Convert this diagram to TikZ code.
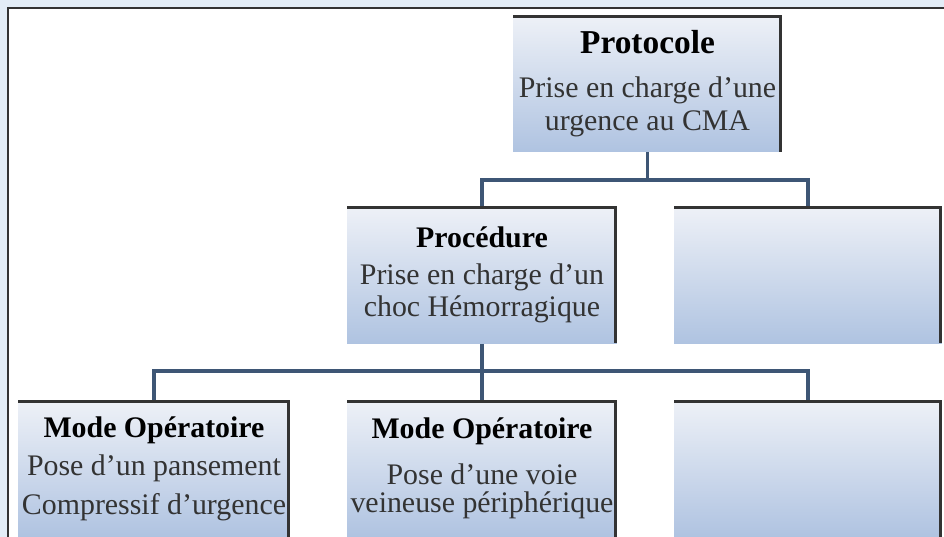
\documentclass[tikz,border=0pt]{standalone}
\usepackage{fontspec}
\setmainfont{Liberation Serif}
\usepackage{tikz}

\definecolor{fond}{HTML}{E3EDF7}
\definecolor{haut}{HTML}{EEF1F7}
\definecolor{bas}{HTML}{AFC3E1}
\definecolor{trait}{HTML}{3E5675}
\definecolor{bord}{HTML}{333333}
\definecolor{texte}{HTML}{333333}

\newcommand{\titre}[1]{{\fontsize{17}{20}\selectfont\bfseries\color{black}#1}}

\tikzset{
    boite/.style={rectangle, inner sep=0pt, align=center, text=texte,
        minimum width=5.4cm, minimum height=2.74cm,
        top color=haut, bottom color=bas,
        font=\fontsize{17}{20}\selectfont,
        path picture={\draw[bord, line width=3pt]
            (path picture bounding box.north west) -- (path picture bounding box.north east)
            -- (path picture bounding box.south east);}},
    lien/.style={trait, line width=1.8pt}
}

\begin{document}
\begin{tikzpicture}[x=0.02cm, y=0.02cm]
    \useasboundingbox (0,0) rectangle (944,-537);
    \fill[fond] (0,0) rectangle (944,-537);
    \fill[white] (8,-8) rectangle (960,-560);
    \draw[bord, line width=1.2pt] (8,-560) -- (8,-8) -- (960,-8);

    \node [boite, minimum width=5.38cm] (proto) at (647.5,-83.5)
        {{\fontsize{19}{20}\selectfont\bfseries\color{black}Protocole}\\[5pt]
         Prise en charge d’une\\[-1pt] urgence au CMA};

    \node [boite] (proc) at (482,-275)
        {\titre{Procédure}\\[1pt] Prise en charge d’un\\[-2pt] choc Hémorragique};
    \node [boite, minimum width=5.36cm] (vide1) at (808,-275) {};

    \node [boite, minimum width=5.44cm] (mo1) at (154,-468.5)
        {\titre{Mode Opératoire}\\[2pt] Pose d’un pansement\\[2pt] Compressif d’urgence};
    \node [boite] (mo2) at (482,-468.5)
        {\titre{Mode Opératoire}\\[6pt] Pose d’une voie\\[-4pt] veineuse périphérique};
    \node [boite, minimum width=5.36cm] (vide2) at (808,-468.5) {};

    \coordinate (j1) at (647.5,-180);
    \coordinate (j2) at (482,-371);

    \draw[lien] (proto.south) -- (j1) -| (proc.north);
    \draw[lien] (j1) -| (vide1.north);

    \draw[lien] (proc.south) -- (j2) -- (mo2.north);
    \draw[lien] (j2) -| (mo1.north);
    \draw[lien] (j2) -| (vide2.north);
\end{tikzpicture}
\end{document}
